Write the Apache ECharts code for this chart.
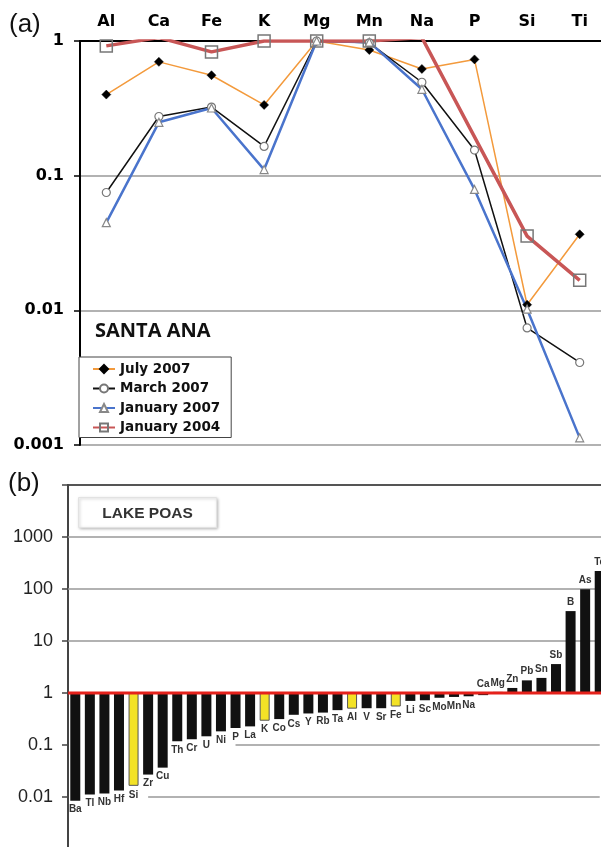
<!DOCTYPE html>
<html>
<head>
<meta charset="utf-8">
<script src="https://cdn.jsdelivr.net/npm/echarts@6/dist/echarts.min.js"></script>
<style>
  html, body { margin: 0; padding: 0; background: #fff; }
  #chart { width: 601px; height: 847px; }
</style>
</head>
<body>
<div id="chart"></div>
<script>
// (a) Santa Ana: normalised element ratios per sampling campaign
const elements = ['Al', 'Ca', 'Fe', 'K', 'Mg', 'Mn', 'Na', 'P', 'Si', 'Ti'];
const july2007 = [0.40, 0.70, 0.557, 0.335, 1.0, 0.857, 0.62, 0.73, 0.011, 0.0367];
const march2007 = [0.075, 0.275, 0.323, 0.165, 1.0, 0.97, 0.494, 0.155, 0.0074, 0.0041];
const january2007 = [0.0448, 0.249, 0.318, 0.111, 1.0, 0.98, 0.438, 0.079, 0.0102, 0.00113];
const january2004 = [0.92, 1.06, 0.83, 1.0, 1.0, 1.0, 1.06, null, 0.0356, 0.0167];
const topTickValues = [1, 0.1, 0.01, 0.001];
const topTickLabels = ['1', '0.1', '0.01', '0.001'];

// (b) Lake Poas: enrichment relative to reference (1 = no change)
const poasElements = ['Ba', 'Tl', 'Nb', 'Hf', 'Si', 'Zr', 'Cu', 'Th', 'Cr', 'U', 'Ni', 'P', 'La', 'K', 'Co', 'Cs',
  'Y', 'Rb', 'Ta', 'Al', 'V', 'Sr', 'Fe', 'Li', 'Sc', 'Mo', 'Mn', 'Na', 'Ca', 'Mg', 'Zn', 'Pb', 'Sn', 'Sb', 'B', 'As', 'Te'];
const poasRatios = [0.0085, 0.0112, 0.0117, 0.0134, 0.0164, 0.027, 0.0367, 0.118, 0.129, 0.147, 0.183, 0.212, 0.228,
  0.293, 0.315, 0.381, 0.404, 0.42, 0.468, 0.50, 0.51, 0.51, 0.55, 0.705, 0.725, 0.81, 0.84, 0.865, 0.91, 1.05,
  1.25, 1.75, 1.95, 3.6, 37.6, 99, 223];
const poasHighlighted = ['Si', 'K', 'Al', 'Fe'];
const referenceLevel = 1;
const bottomTickValues = [1000, 100, 10, 1, 0.1, 0.01];
const bottomTickLabels = ['1000', '100', '10', '1', '0.1', '0.01'];

function tickFormatter(values, labels) {
  return function (v) {
    const i = values.findIndex(t => Math.abs(Math.log10(t) - Math.log10(v)) < 1e-6);
    return i >= 0 ? labels[i] : '';
  };
}

const chart = echarts.init(document.getElementById('chart'), null, { renderer: 'canvas' });

const boldAxisFont = { fontFamily: 'DejaVu Sans', fontWeight: 'bold', fontSize: 16, color: '#000' };

const barData = poasRatios.map((v, i) => ({
  value: v,
  itemStyle: poasHighlighted.includes(poasElements[i])
    ? { color: '#f3e226', borderColor: '#555', borderWidth: 1 }
    : { color: '#111' },
  label: { position: v < 0.9 ? 'bottom' : 'top' }
}));

const option = {
  animation: false,
  backgroundColor: '#fff',
  grid: [
    { left: 80, top: 41, width: 526, height: 404, outerBoundsMode: 'none' },
    { left: 68, top: 485, width: 539, height: 364, outerBoundsMode: 'none', show: true, borderColor: '#555', borderWidth: 2, backgroundColor: 'transparent' }
  ],
  xAxis: [
    {
      type: 'category', gridIndex: 0, position: 'top', data: elements, boundaryGap: true,
      axisLine: { lineStyle: { color: '#000', width: 2 } },
      axisTick: { length: 6, lineStyle: { color: '#000', width: 1.5 } },
      axisLabel: Object.assign({ margin: 11 }, boldAxisFont),
      splitLine: { show: false }
    },
    {
      type: 'category', gridIndex: 1, data: poasElements, boundaryGap: true,
      axisLine: { show: false }, axisTick: { show: false }, axisLabel: { show: false }, splitLine: { show: false }
    },
    { type: 'value', gridIndex: 1, min: 0, max: 1, show: false }
  ],
  yAxis: [
    {
      type: 'log', logBase: 10, gridIndex: 0, min: 0.001, max: 1,
      axisLine: { show: true, lineStyle: { color: '#000', width: 2 } },
      axisTick: { show: true, length: 6, lineStyle: { color: '#000', width: 1.5 } },
      axisLabel: Object.assign({ margin: 16, formatter: tickFormatter(topTickValues, topTickLabels) }, boldAxisFont),
      splitLine: { show: true, lineStyle: { color: '#999', width: 1.5 } },
      minorTick: { show: false }, minorSplitLine: { show: false }
    },
    {
      type: 'log', logBase: 10, gridIndex: 1, min: 0.001, max: 10000,
      axisLine: { show: true, lineStyle: { color: '#444', width: 2 } },
      axisTick: { show: true, length: 6, lineStyle: { color: '#444', width: 1.5 } },
      axisLabel: {
        margin: 15, fontFamily: 'Liberation Sans', fontSize: 18, color: '#222',
        formatter: tickFormatter(bottomTickValues, bottomTickLabels)
      },
      splitLine: { show: false }
    }
  ],
  legend: {
    orient: 'vertical', left: 79, top: 357,
    data: ['July 2007', 'March 2007', 'January 2007', 'January 2004'],
    backgroundColor: '#fff', borderColor: '#444', borderWidth: 1, borderRadius: 0,
    padding: [5, 11, 3, 13], itemGap: 5.5, itemWidth: 22, itemHeight: 10,
    textStyle: { fontFamily: 'DejaVu Sans', fontWeight: 'bold', fontSize: 13.5, color: '#111' }
  },
  series: [
    {
      name: 'July 2007', type: 'line', xAxisIndex: 0, yAxisIndex: 0, data: july2007,
      symbol: 'diamond', symbolSize: 9,
      lineStyle: { color: '#f39a3c', width: 1.5 },
      itemStyle: { color: '#000', borderColor: '#000', borderWidth: 0.5 }
    },
    {
      name: 'March 2007', type: 'line', xAxisIndex: 0, yAxisIndex: 0, data: march2007,
      symbol: 'circle', symbolSize: 8,
      lineStyle: { color: '#111', width: 1.5 },
      itemStyle: { color: '#fff', borderColor: '#777', borderWidth: 1.2 }
    },
    {
      name: 'January 2007', type: 'line', xAxisIndex: 0, yAxisIndex: 0, data: january2007,
      symbol: 'triangle', symbolSize: 8,
      lineStyle: { color: '#4a74cc', width: 2.5 },
      itemStyle: { color: '#fff', borderColor: '#888', borderWidth: 1.2 }
    },
    {
      name: 'January 2004', type: 'line', xAxisIndex: 0, yAxisIndex: 0, data: january2004,
      symbol: 'rect', symbolSize: 12, connectNulls: true,
      lineStyle: { color: '#c85656', width: 3.5 },
      itemStyle: { color: 'rgba(255,255,255,0)', borderColor: '#777', borderWidth: 1.5 }
    },
    {
      name: 'Lake Poas', type: 'bar', xAxisIndex: 1, yAxisIndex: 1, data: barData,
      barWidth: 10, z: 6,
      label: {
        show: true, formatter: '{b}', distance: 4,
        fontFamily: 'Liberation Sans', fontWeight: 'bold', fontSize: 10, color: '#333'
      },
      markLine: {
        silent: true, symbol: 'none', z: 1,
        label: { show: false },
        lineStyle: { color: '#999', width: 1.5, type: 'solid' },
        data: [
          { yAxis: 1000 }, { yAxis: 100 }, { yAxis: 10 },
          [{ xAxis: 'P', yAxis: 0.1 }, { xAxis: 'Te', yAxis: 0.1 }],
          [{ xAxis: 'Zr', yAxis: 0.01 }, { xAxis: 'Te', yAxis: 0.01 }]
        ]
      }
    },
    {
      name: 'reference', type: 'line', xAxisIndex: 2, yAxisIndex: 1,
      data: [[0, referenceLevel], [1, referenceLevel]],
      symbol: 'none', silent: true, z: 10,
      lineStyle: { color: '#e5211b', width: 3 }
    }
  ],
  graphic: [
    { type: 'text', left: 9, top: 12, style: { text: '(a)', fontFamily: 'Liberation Sans', fontSize: 26, fill: '#111' } },
    { type: 'text', left: 8, top: 471, style: { text: '(b)', fontFamily: 'Liberation Sans', fontSize: 26, fill: '#111' } },
    { type: 'text', left: 95, top: 321, style: { text: 'SANTA ANA', fontFamily: 'Open Sans', fontWeight: 700, fontSize: 20, fill: '#111' } },
    {
      type: 'group', left: 78, top: 497,
      children: [
        {
          type: 'rect', shape: { x: 0, y: 0, width: 138, height: 30 },
          style: { fill: '#fff', stroke: '#e2e2e2', lineWidth: 1, shadowBlur: 3, shadowOffsetX: 1, shadowOffsetY: 1, shadowColor: 'rgba(0,0,0,0.25)' }
        },
        {
          type: 'text', x: 69, y: 16,
          style: { text: 'LAKE POAS', align: 'center', verticalAlign: 'middle', fontFamily: 'Liberation Sans', fontWeight: 'bold', fontSize: 15.5, fill: '#333' }
        }
      ]
    }
  ]
};

chart.setOption(option);
</script>
</body>
</html>
